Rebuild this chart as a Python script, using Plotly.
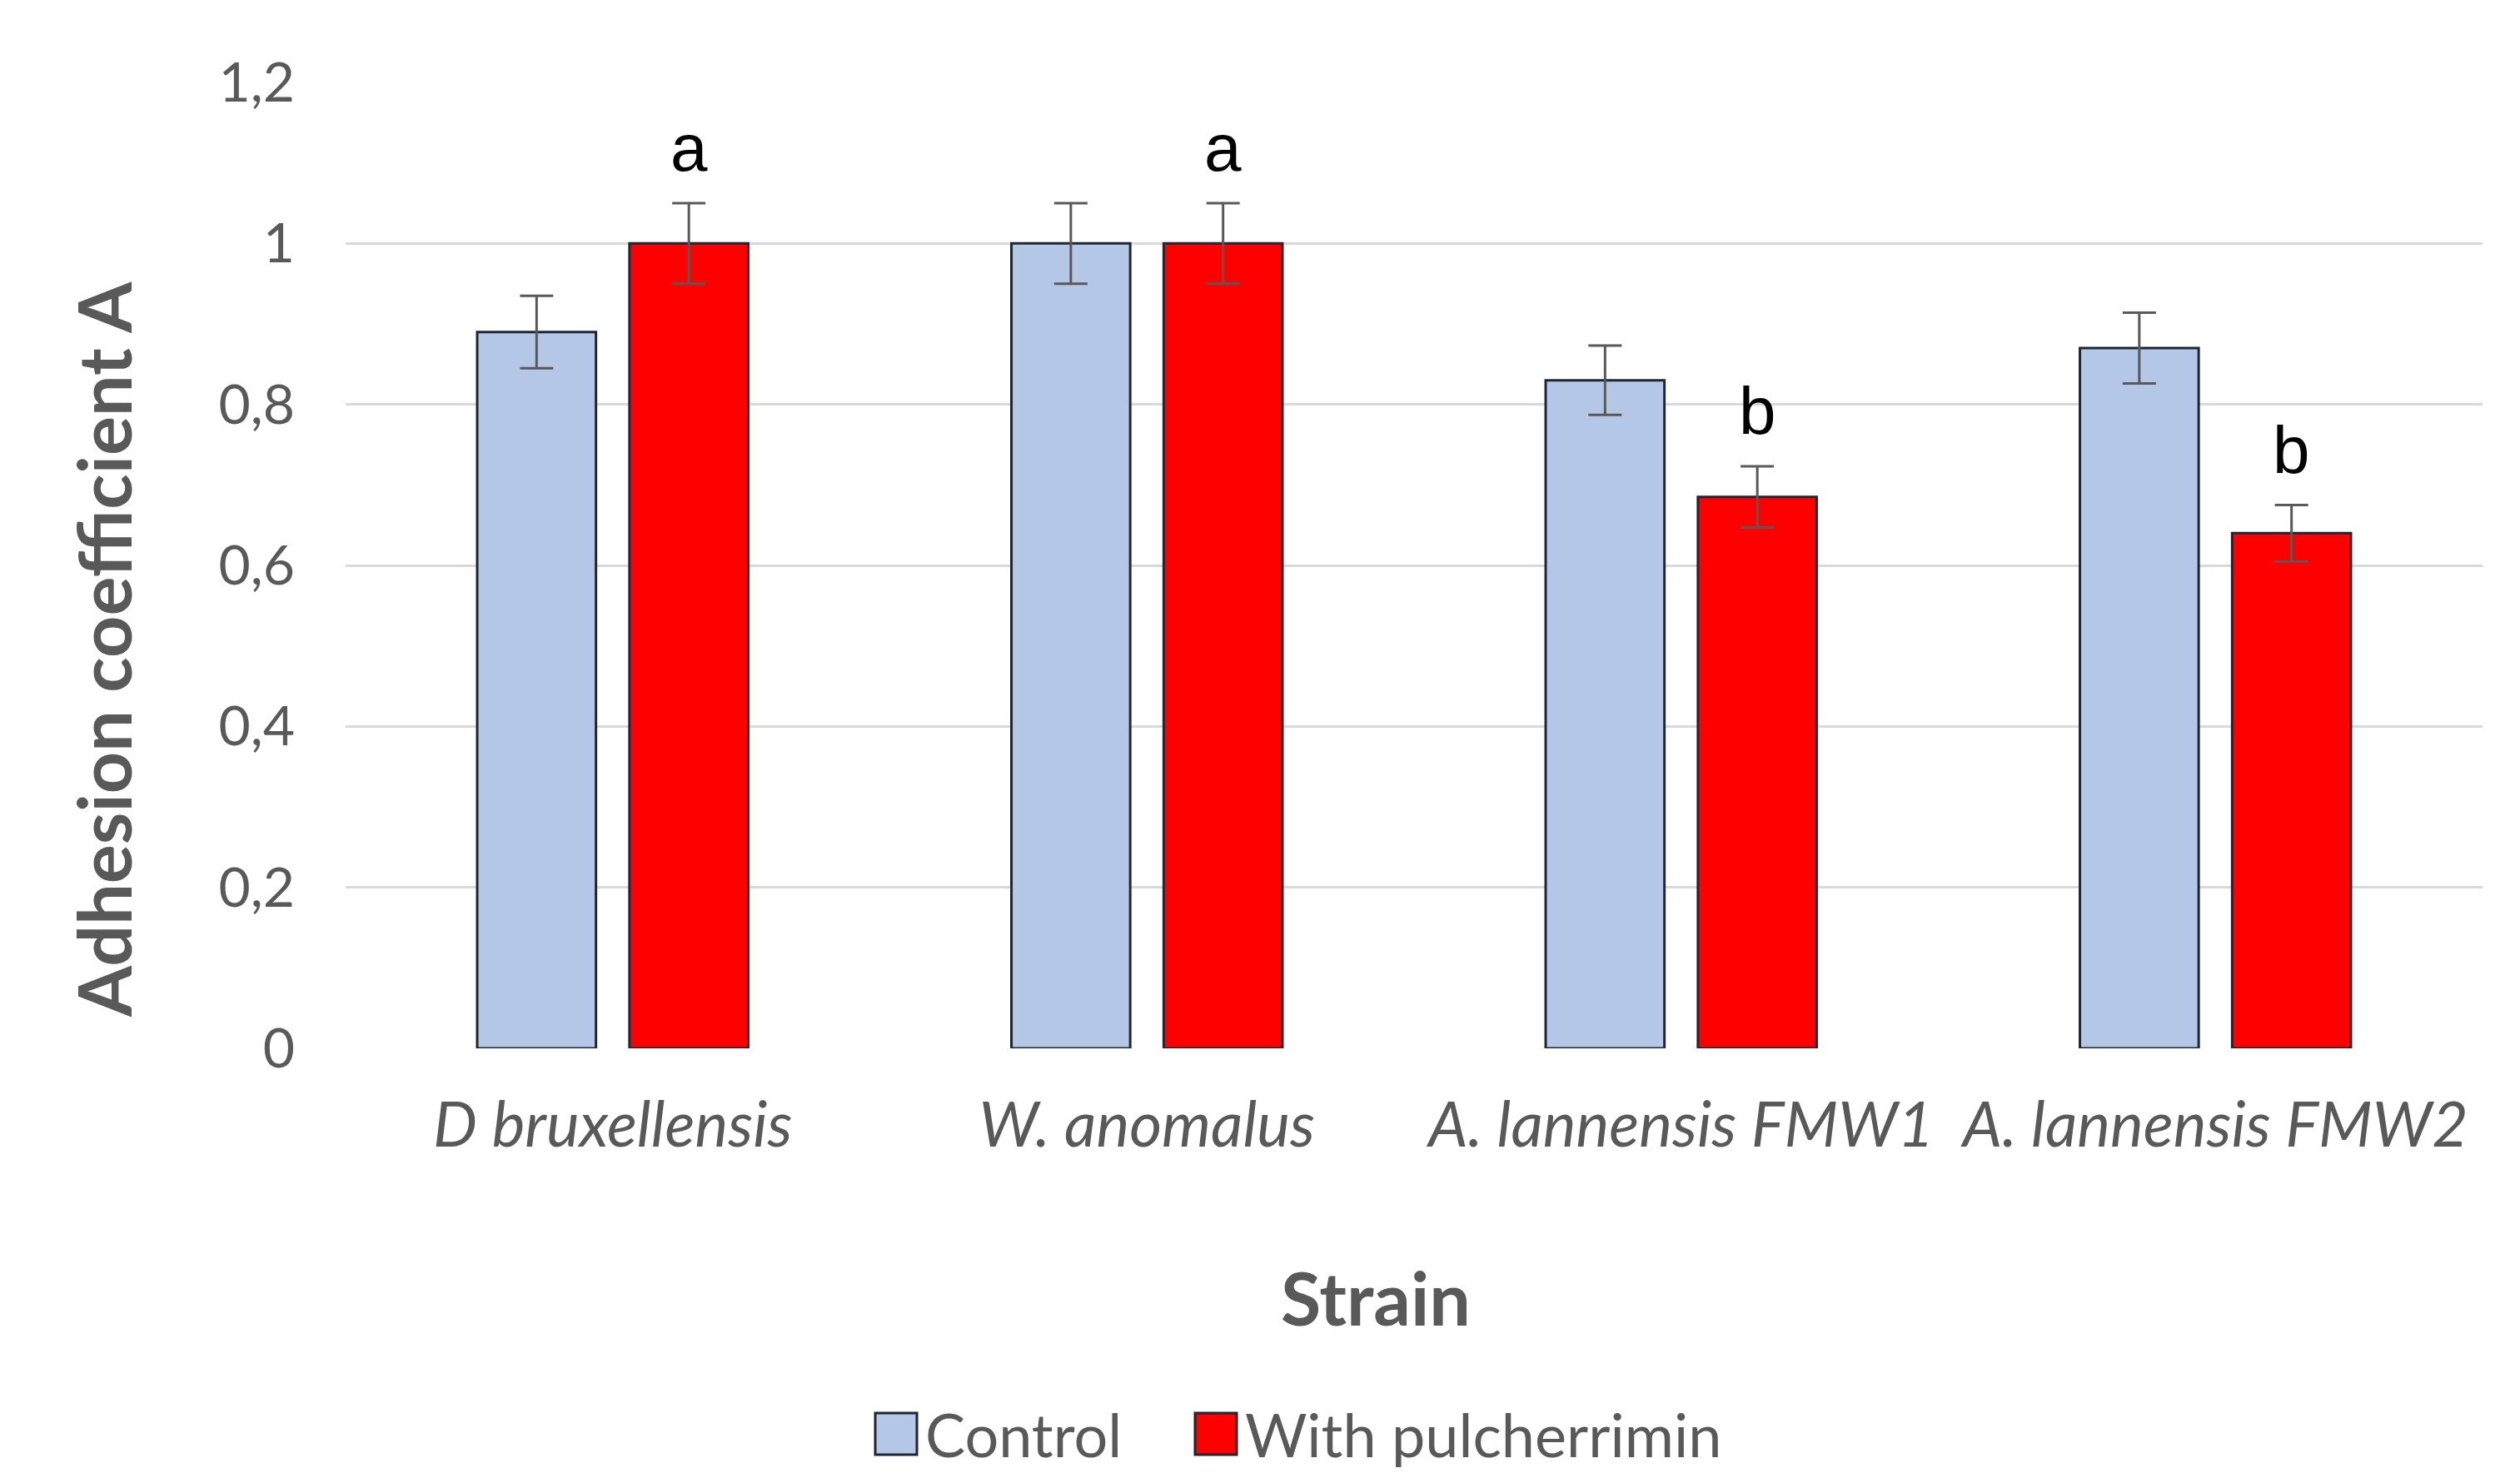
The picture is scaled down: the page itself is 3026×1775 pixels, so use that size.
import plotly.graph_objects as go

# ---- data ----
strains = ["D bruxellensis", "W. anomalus", "A. lannensis FMW1", "A. lannensis FMW2"]
control = [0.89, 1.00, 0.83, 0.87]
control_err = [0.045, 0.05, 0.043, 0.044]
pulcherrimin = [1.00, 1.00, 0.685, 0.64]
pulcherrimin_err = [0.05, 0.05, 0.038, 0.035]
letters = ["a", "a", "b", "b"]
y_ticks = [0, 0.2, 0.4, 0.6, 0.8, 1.0, 1.2]
y_ticktext = ["0", "0,2", "0,4", "0,6", "0,8", "1", "1,2"]
series_names = ["Control", "With pulcherrimin"]
x_title = "Strain"
y_title = "Adhesion coefficient A"

W, H = 3026, 1775
ML, MR, MT, MB = 407, 53, 91, 524
BARGAP = 0.43
BARGROUPGAP = 0.22
C_CTRL = "#B4C7E7"
C_PUL = "#FF0000"
OUTLINE = "#1F2633"
GREY_TXT = "#595959"
FONT = "Lato"

fig = go.Figure()
fig.add_trace(go.Bar(
    name=series_names[0], x=strains, y=control,
    marker=dict(color=C_CTRL, line=dict(color=OUTLINE, width=3)),
    error_y=dict(type="data", array=control_err, color=GREY_TXT, thickness=3, width=20),
    showlegend=False,
))
fig.add_trace(go.Bar(
    name=series_names[1], x=strains, y=pulcherrimin,
    marker=dict(color=C_PUL, line=dict(color=OUTLINE, width=3)),
    error_y=dict(type="data", array=pulcherrimin_err, color=GREY_TXT, thickness=3, width=20),
    showlegend=False,
))

# significance letters above the pulcherrimin bars
offset = (1 - BARGAP) / 4
for i, (lab, v, e) in enumerate(zip(letters, pulcherrimin, pulcherrimin_err)):
    fig.add_annotation(
        x=i + offset, y=v + e, xref="x", yref="y", text=lab, showarrow=False,
        yanchor="bottom", yshift=20,
        font=dict(family="Liberation Sans", size=80, color="#000000"),
    )

plot_w = W - ML - MR
plot_h = H - MT - MB
def px_x(px):
    return (px - ML) / plot_w
def px_y(py):
    return (H - MB - py) / plot_h

# axis titles (placed like the original, which is not centred on the plot)
fig.add_annotation(xref="paper", yref="paper", x=px_x(116), y=px_y(772),
                   text="<b>" + y_title + "</b>", textangle=-90, showarrow=False,
                   xanchor="center", yanchor="middle",
                   font=dict(family=FONT, size=88, color=GREY_TXT))
fig.add_annotation(xref="paper", yref="paper", x=px_x(1644), y=px_y(1550),
                   text="<b>" + x_title + "</b>", showarrow=False,
                   xanchor="center", yanchor="middle",
                   font=dict(family=FONT, size=88, color=GREY_TXT))

# custom legend (large swatches like the original)
legend_items = [(1043, C_CTRL, series_names[0]), (1427, C_PUL, series_names[1])]
sw = 50
cy = 1714
for x0, col, name in legend_items:
    fig.add_shape(type="rect", xref="paper", yref="paper",
                  x0=px_x(x0), x1=px_x(x0 + sw), y0=px_y(cy + sw / 2), y1=px_y(cy - sw / 2),
                  fillcolor=col, line=dict(color=OUTLINE, width=3))
    fig.add_annotation(xref="paper", yref="paper", x=px_x(x0 + sw + 8), y=px_y(cy),
                       text=name, showarrow=False, xanchor="left", yanchor="middle",
                       font=dict(family=FONT, size=72, color=GREY_TXT))

fig.update_layout(
    width=W, height=H,
    margin=dict(l=ML, r=MR, t=MT, b=MB),
    paper_bgcolor="white", plot_bgcolor="white",
    barmode="group", bargap=BARGAP, bargroupgap=BARGROUPGAP,
    font=dict(family=FONT, color=GREY_TXT),
    showlegend=False,
)
fig.update_xaxes(
    showgrid=False, showline=False, zeroline=False, ticks="",
    tickfont=dict(family=FONT, size=75, color=GREY_TXT, style="italic"),
    ticklabelstandoff=42,
)
fig.update_yaxes(
    range=[0, 1.2], tickvals=y_ticks, ticktext=y_ticktext,
    showgrid=True, gridcolor="#D9D9D9", gridwidth=3, zeroline=False, showline=False, ticks="",
    tickfont=dict(family=FONT, size=66, color=GREY_TXT),
    ticklabelstandoff=60,
)

fig.write_html("out.html")
